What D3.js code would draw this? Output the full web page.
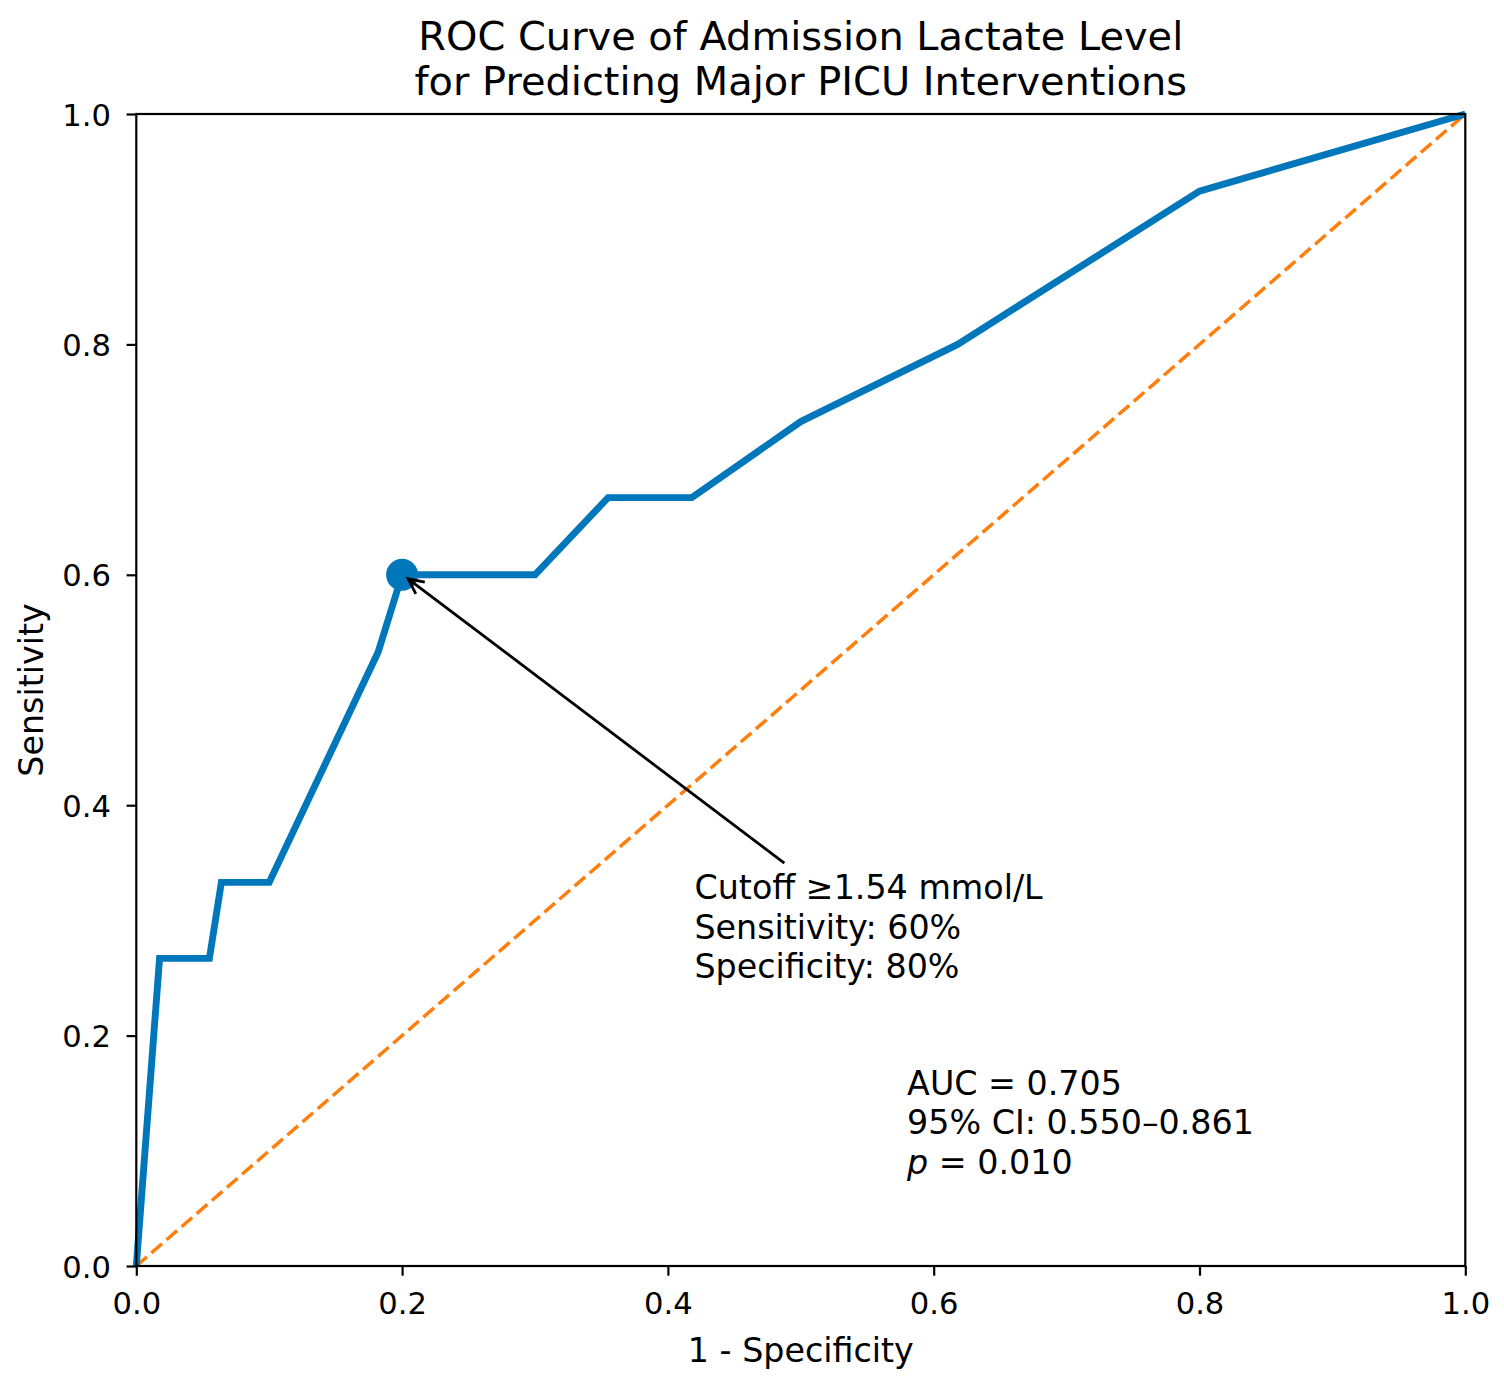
<!DOCTYPE html>
<html>
<head>
<meta charset="utf-8">
<script src="https://cdn.jsdelivr.net/npm/d3@7"></script>
<style>
  body { margin: 0; background: white; }
  text { font-family: "DejaVu Sans", sans-serif; fill: black; }
</style>
</head>
<body>
<div id="chart"></div>
<script>
// ROC curve points
const fpr = [0, 0.0175, 0.055, 0.064, 0.1, 0.182, 0.2, 0.3, 0.355, 0.418, 0.5, 0.618, 0.8, 1.0]
const tpr = [0, 0.267, 0.267, 0.333, 0.333, 0.533, 0.6, 0.6, 0.667, 0.667, 0.733, 0.8, 0.933, 1.0]
const chance = [[0, 0], [1, 1]]
const cutoffPoint = [0.2, 0.6]
const ticks = [0, 0.2, 0.4, 0.6, 0.8, 1.0]
const titleLines = ["ROC Curve of Admission Lactate Level", "for Predicting Major PICU Interventions"]
const cutoffLines = ["Cutoff \u22651.54 mmol/L", "Sensitivity: 60%", "Specificity: 80%"]
const cutoffTextPos = [0.42, 0.25]
const statsPos = [0.58, 0.08]

const W = 1504, H = 1384
const margin = {top: 114, right: 38.7, bottom: 118, left: 136.3}
const blue = "#0077bb", orange = "#ff7f0e"

const svg = d3.select("#chart").append("svg")
    .attr("width", W).attr("height", H)

const x = d3.scaleLinear().domain([0, 1]).range([margin.left, W - margin.right])
const y = d3.scaleLinear().domain([0, 1]).range([H - margin.bottom, margin.top])

// chance diagonal
svg.append("path")
    .attr("d", d3.line().x(d => x(d[0])).y(d => y(d[1]))(chance))
    .attr("fill", "none")
    .attr("stroke", orange)
    .attr("stroke-width", 3.5)
    .attr("stroke-dasharray", "14,6")

// ROC curve
let line = d3.line().x(d => x(d[0])).y(d => y(d[1]))
svg.append("path")
    .attr("d", line(d3.zip(fpr, tpr)))
    .attr("fill", "none")
    .attr("stroke", blue)
    .attr("stroke-width", 6.9)
    .attr("stroke-linejoin", "miter")

svg.append("circle")
    .attr("cx", x(cutoffPoint[0]))
    .attr("cy", y(cutoffPoint[1]))
    .attr("r", 16)
    .attr("fill", blue)

// axes
let xAxis = svg.append("g")
    .attr("transform", `translate(0,${H - margin.bottom})`)
    .call(d3.axisBottom(x).tickValues(ticks).tickFormat(d3.format(".1f")).tickSize(9.7).tickPadding(9))
let yAxis = svg.append("g")
    .attr("transform", `translate(${margin.left},0)`)
    .call(d3.axisLeft(y).tickValues(ticks).tickFormat(d3.format(".1f")).tickSize(9.7).tickPadding(9))

;[xAxis, yAxis].forEach(g => {
    g.select(".domain").remove()
    g.selectAll(".tick line").attr("stroke", "black").attr("stroke-width", 2.2)
    g.selectAll(".tick text").attr("font-size", 30.6).attr("font-family", "DejaVu Sans")
})
xAxis.selectAll(".tick text").attr("dy", null).attr("y", 48).attr("dominant-baseline", "auto")
yAxis.selectAll(".tick text").attr("dy", null).attr("x", -25.3).attr("y", 11).attr("dominant-baseline", "auto")

// frame
svg.append("rect")
    .attr("x", margin.left).attr("y", margin.top)
    .attr("width", W - margin.left - margin.right)
    .attr("height", H - margin.top - margin.bottom)
    .attr("fill", "none")
    .attr("stroke", "black")
    .attr("stroke-width", 2.2)

// labels
svg.append("text")
    .attr("x", (margin.left + W - margin.right) / 2)
    .attr("y", 1361.7)
    .attr("text-anchor", "middle")
    .attr("font-size", 33.3)
    .text("1 - Specificity")

svg.append("text")
    .attr("transform", `translate(43,${(margin.top + H - margin.bottom) / 2}) rotate(-90)`)
    .attr("text-anchor", "middle")
    .attr("font-size", 33.3)
    .text("Sensitivity")

svg.append("text")
    .attr("text-anchor", "middle")
    .attr("font-size", 39.9)
    .selectAll("tspan")
    .data(titleLines)
    .enter().append("tspan")
    .attr("x", (margin.left + W - margin.right) / 2)
    .attr("y", (d, i) => 50 + i * 44.5)
    .text(d => d)

// cutoff annotation
let lineH = 39.5
let cutoffText = svg.append("text")
    .attr("font-size", 33.3)
cutoffText.selectAll("tspan")
    .data(cutoffLines)
    .enter().append("tspan")
    .attr("x", x(cutoffTextPos[0]))
    .attr("y", (d, i) => y(cutoffTextPos[1]) - (cutoffLines.length - 1 - i) * lineH)
    .text(d => d)

// arrow from text box toward the cutoff point
let bb = cutoffText.node().getBBox()
let cx = bb.x + bb.width / 2, cy = bb.y + bb.height / 2
let tx = x(cutoffPoint[0]) + 6, ty = y(cutoffPoint[1]) + 4
let dx = tx - cx, dy = ty - cy
let tEdge = Math.min(
    Math.abs((bb.width / 2) / dx),
    Math.abs((bb.height / 2) / dy)
)
let sx = cx + dx * tEdge, sy = cy + dy * tEdge
let len = Math.hypot(tx - sx, ty - sy)
let ux = (tx - sx) / len, uy = (ty - sy) / len
sx += ux * 8
sy += uy * 8

svg.append("line")
    .attr("x1", sx).attr("y1", sy)
    .attr("x2", tx).attr("y2", ty)
    .attr("stroke", "black")
    .attr("stroke-width", 2.8)

let headLen = 17, headAng = 0.45
let ang = Math.atan2(ty - sy, tx - sx)
let head = [
    [tx - headLen * Math.cos(ang - headAng), ty - headLen * Math.sin(ang - headAng)],
    [tx, ty],
    [tx - headLen * Math.cos(ang + headAng), ty - headLen * Math.sin(ang + headAng)]
]
svg.append("path")
    .attr("d", d3.line()(head))
    .attr("fill", "none")
    .attr("stroke", "black")
    .attr("stroke-width", 2.8)

// stats annotation
let stats = svg.append("text")
    .attr("font-size", 33.3)
let statLines = [
    [{t: "AUC = 0.705"}],
    [{t: "95% CI: 0.550\u20130.861"}],
    [{t: "p", italic: true}, {t: " = 0.010"}]
]
statLines.forEach((parts, i) => {
    parts.forEach((p, j) => {
        let ts = stats.append("tspan").text(p.t)
        if (j == 0) {
            ts.attr("x", x(statsPos[0]))
              .attr("y", y(statsPos[1]) - (statLines.length - 1 - i) * lineH)
        }
        if (p.italic) ts.attr("font-style", "italic")
    })
})
</script>
</body>
</html>
